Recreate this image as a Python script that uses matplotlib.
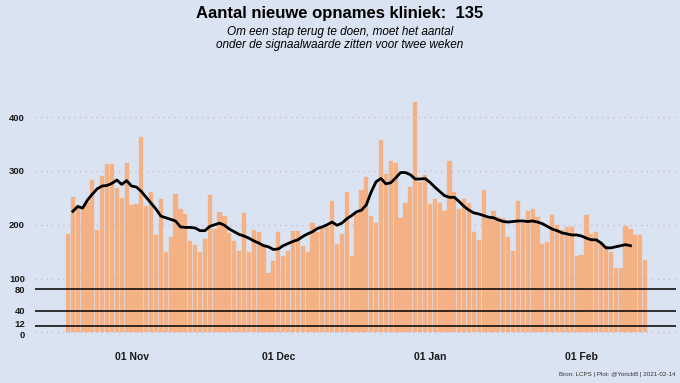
import matplotlib
matplotlib.use("Agg")
import matplotlib.pyplot as plt
import matplotlib.dates as mdates
import matplotlib.transforms as mtransforms
import pandas as pd

plt.rcParams['font.family'] = ['Liberation Sans', 'DejaVu Sans']

# daily new clinical admissions, 19 Oct 2020 .. 14 Feb 2021
start = '2020-10-19'
opnames = [183, 252, 235, 232, 242, 284, 191, 291, 312, 313,
           269, 250, 314, 237, 239, 364, 235, 261, 180, 248,
           150, 177, 258, 230, 220, 170, 163, 150, 173, 256,
           192, 224, 217, 185, 170, 151, 222, 150, 191, 187,
           164, 111, 133, 186, 141, 152, 188, 188, 160, 149,
           204, 187, 196, 196, 245, 165, 182, 260, 141, 220,
           264, 288, 217, 204, 357, 295, 319, 315, 212, 241,
           271, 428, 280, 293, 238, 247, 240, 225, 319, 260,
           230, 248, 240, 187, 172, 265, 211, 225, 215, 212,
           178, 151, 244, 204, 225, 230, 214, 165, 168, 218,
           200, 190, 195, 195, 141, 143, 218, 183, 186, 165,
           160, 149, 119, 119, 198, 193, 180, 180, 135]

# 7-day average as drawn (starts on 2nd day, ends 3 days before last)
gemiddelde = [225, 234, 231, 246, 257, 267, 272, 273, 277, 283,
              275, 282, 272, 270, 262, 251, 240, 229, 216, 213,
              210, 207, 196, 195, 195, 194, 189, 189, 197, 200,
              203, 199, 192, 187, 182, 179, 175, 170, 166, 161,
              159, 154, 155, 161, 165, 169, 172, 178, 183, 187,
              193, 196, 200, 205, 199, 203, 211, 217, 224, 227,
              237, 261, 280, 286, 276, 278, 287, 297, 297, 293,
              285, 285, 286, 279, 270, 262, 254, 251, 251, 243,
              234, 227, 222, 220, 217, 214, 213, 209, 206, 205,
              206, 207, 207, 206, 207, 205, 202, 197, 192, 189,
              185, 183, 181, 181, 179, 175, 172, 172, 166, 157,
              157, 159, 161, 163, 161]

signaal = [80, 40, 12]
yticks = [0, 12, 40, 80, 100, 200, 300, 400]
xticks = ['2020-11-01', '2020-12-01', '2021-01-01', '2021-02-01']

dates = pd.date_range(start, periods=len(opnames), freq='D')
line_dates = dates[1:1 + len(gemiddelde)]

bg = '#dae3f2'
fig = plt.figure(figsize=(6.8, 3.83), dpi=100, facecolor=bg)
ax = fig.add_axes([0.051, 0.1253, 0.943, 0.625], facecolor=bg)

ax.bar(dates, opnames, width=0.86, color='#f5b183', edgecolor='#f0b890',
       linewidth=0.3, zorder=2)
ax.plot(line_dates, gemiddelde, color='black', linewidth=2.0, zorder=4)
for s in signaal:
    ax.axhline(s, color='black', linewidth=1.1, zorder=3)

ax.set_ylim(-5, 440)
ax.set_xlim(dates[0] - pd.Timedelta(days=6.8), dates[0] + pd.Timedelta(days=124.3))
ax.set_yticks(yticks)
ax.set_xticks(pd.to_datetime(xticks))
ax.xaxis.set_major_formatter(mdates.DateFormatter('%d %b'))

for v in [0, 100, 200, 300, 400]:
    ax.axhline(v, color='#d3bccb', linewidth=1.0, linestyle=(0, (1, 3)), zorder=1)

ax.tick_params(axis='both', length=0, labelsize=7.5, colors='#1a1a1a')
ax.tick_params(axis='y', pad=7, labelsize=6.8)
ax.tick_params(axis='x', pad=12)
for lbl in ax.get_xticklabels() + ax.get_yticklabels():
    lbl.set_fontweight('bold')
for sp in ax.spines.values():
    sp.set_visible(False)

# 0 and 12 sit very close: nudge them apart a little
ylabels = ax.get_yticklabels()
ylabels[0].set_transform(ylabels[0].get_transform() +
                         mtransforms.ScaledTranslation(0, -1.6 / 72, fig.dpi_scale_trans))
ylabels[1].set_transform(ylabels[1].get_transform() +
                         mtransforms.ScaledTranslation(0, 1.6 / 72, fig.dpi_scale_trans))

fig.text(0.5, 0.966, 'Aantal nieuwe opnames kliniek:  %d' % opnames[-1],
         ha='center', va='center', fontsize=12, fontweight='bold')
fig.text(0.5, 0.900, 'Om een stap terug te doen, moet het aantal\nonder de signaalwaarde zitten voor twee weken',
         ha='center', va='center', fontsize=8.5, style='italic', linespacing=1.1)
fig.text(0.993, 0.015, 'Bron: LCPS | Plot: @YorickB | 2021-02-14',
         ha='right', va='bottom', fontsize=4.5, color='#333333')

fig.savefig('out.png', dpi=100, facecolor=bg)
